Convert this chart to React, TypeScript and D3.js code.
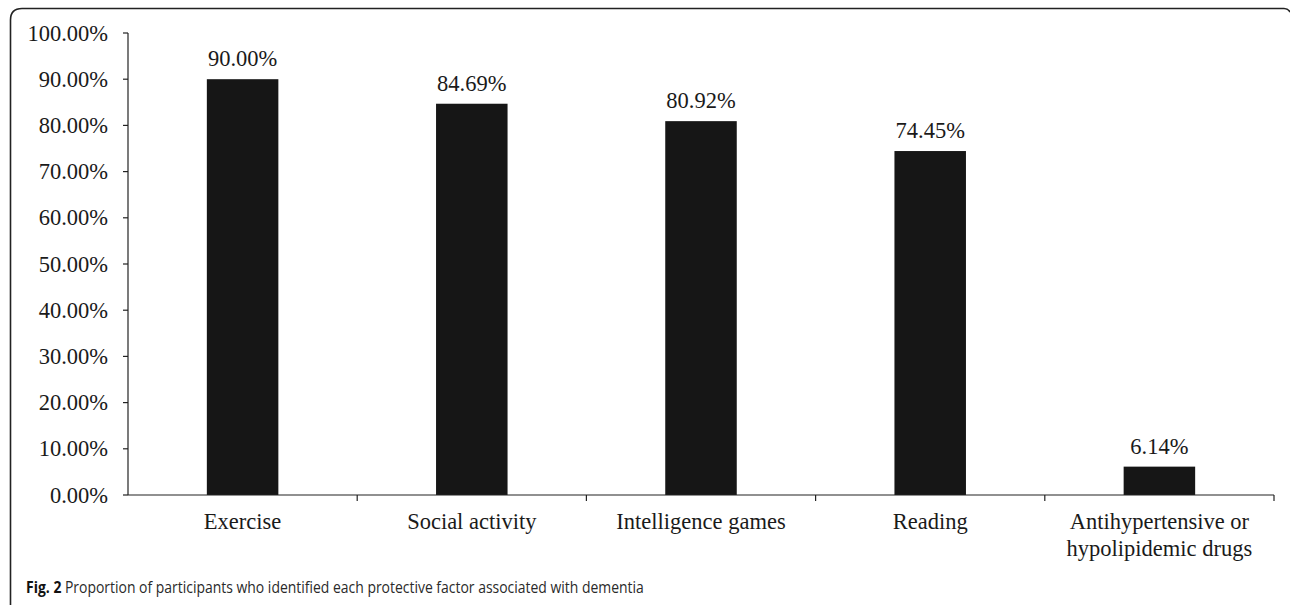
import React from "react";
import * as d3 from "d3";

const categories: string[][] = [
  ["Exercise"],
  ["Social activity"],
  ["Intelligence games"],
  ["Reading"],
  ["Antihypertensive or", "hypolipidemic drugs"],
];
const values: number[] = [90.0, 84.69, 80.92, 74.45, 6.14];
const yTicks: number[] = [0, 10, 20, 30, 40, 50, 60, 70, 80, 90, 100];
const captionBold = "Fig. 2";
const captionText =
  " Proportion of participants who identified each protective factor associated with dementia";

const W = 1290;
const H = 605;
const plot = { left: 128, right: 1274, top: 33, bottom: 495 };
const serif = "'Liberation Serif', 'Times New Roman', serif";
const fs = 22.5;

export default function App() {
  const keys = categories.map((_, i) => String(i));
  const x = d3.scaleBand<string>().domain(keys).range([plot.left, plot.right]).padding(0);
  const y = d3.scaleLinear().domain([0, 100]).range([plot.bottom, plot.top]);
  const barW = x.step() * 0.312;

  return (
    <svg
      width={W}
      height={H}
      style={{ position: "absolute", left: 0, top: 0, background: "#fff" }}
    >
      {/* figure frame */}
      <path
        d={`M10.5,${H + 2} L10.5,20 Q10.5,8.5 22,8.5 L1284,8.5 Q1288,8.5 1290,12`}
        fill="none"
        stroke="#222"
        strokeWidth={1.6}
      />

      {/* y axis */}
      <line x1={plot.left} x2={plot.left} y1={plot.top} y2={plot.bottom} stroke="#222" strokeWidth={1.2} />
      {yTicks.map((t) => (
        <g key={t}>
          <line x1={plot.left - 5} x2={plot.left} y1={y(t)} y2={y(t)} stroke="#222" strokeWidth={1.2} />
          <text
            x={108}
            y={y(t)}
            dy="0.34em"
            textAnchor="end"
            fontFamily={serif}
            fontSize={fs}
            fill="#1a1a1a"
          >
            {t.toFixed(2)}%
          </text>
        </g>
      ))}

      {/* bars */}
      {values.map((v, i) => {
        const cx = (x(String(i)) as number) + x.step() / 2;
        return (
          <g key={i}>
            <rect x={cx - barW / 2} y={y(v)} width={barW} height={plot.bottom - y(v)} fill="#161616" />
            <text
              x={cx}
              y={y(v) - 13}
              textAnchor="middle"
              fontFamily={serif}
              fontSize={fs}
              fill="#1a1a1a"
            >
              {v.toFixed(2)}%
            </text>
          </g>
        );
      })}

      {/* x axis */}
      <line x1={plot.left} x2={plot.right} y1={plot.bottom} y2={plot.bottom} stroke="#222" strokeWidth={1.2} />
      {keys.map((k) => {
        const bx = (x(k) as number) + x.step();
        return <line key={k} x1={bx} x2={bx} y1={plot.bottom} y2={plot.bottom + 6} stroke="#222" strokeWidth={1.2} />;
      })}
      {categories.map((lines, i) => {
        const cx = (x(String(i)) as number) + x.step() / 2;
        return (
          <text key={i} textAnchor="middle" fontFamily={serif} fontSize={fs} fill="#1a1a1a">
            {lines.map((ln, j) => (
              <tspan key={j} x={cx} y={529 + j * 27}>
                {ln}
              </tspan>
            ))}
          </text>
        );
      })}

      {/* caption */}
      <text
        transform="translate(26,592.5) scale(0.9,1)"
        fontFamily="'Open Sans', 'Noto Sans', sans-serif"
        fontSize={15.5}
        fill="#2a2a2a"
      >
        <tspan fontWeight="bold" fill="#111">{captionBold}</tspan>
        <tspan>{captionText}</tspan>
      </text>
    </svg>
  );
}
